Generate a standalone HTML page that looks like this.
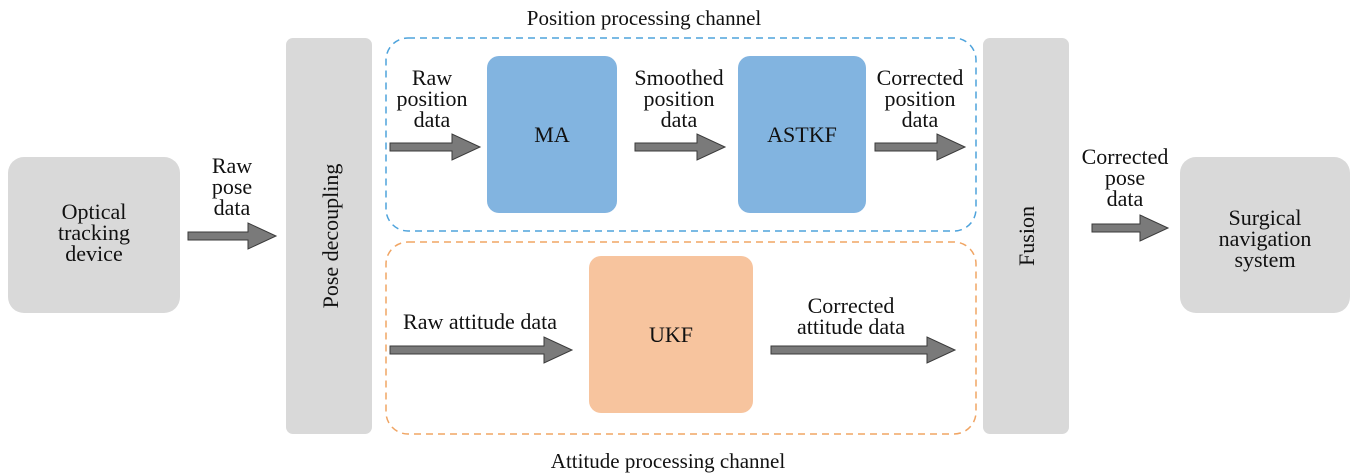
<!DOCTYPE html>
<html><head><meta charset="utf-8"><style>
html,body{margin:0;padding:0;background:#fff;}
svg{display:block;}
text{font-family:"Liberation Serif",serif;fill:#111;}
</style></head><body>
<svg width="1353" height="474" viewBox="0 0 1353 474" xmlns="http://www.w3.org/2000/svg">
<rect x="8" y="157" width="172" height="156" rx="16" fill="#d9d9d9"/>
<rect x="286" y="38" width="86" height="396" rx="7" fill="#d9d9d9"/>
<rect x="983" y="38" width="86" height="396" rx="7" fill="#d9d9d9"/>
<rect x="1180" y="157" width="170" height="156" rx="16" fill="#d9d9d9"/>
<rect x="386" y="38" width="590" height="193" rx="22" fill="none" stroke="#4ea3dc" stroke-width="1.5" stroke-dasharray="7,5"/>
<rect x="386" y="242" width="590" height="192" rx="22" fill="none" stroke="#f0a564" stroke-width="1.5" stroke-dasharray="7,5"/>
<rect x="487" y="56" width="130" height="157" rx="12" fill="#82b4e0"/>
<rect x="738" y="56" width="128" height="157" rx="12" fill="#82b4e0"/>
<rect x="589" y="256" width="164" height="157" rx="12" fill="#f7c49e"/>
<g fill="#7a7a7a" stroke="#3a3a3a" stroke-width="1">
<path d="M188,232 h60 v-9 l28,13 l-28,13 v-9 h-60 z"/>
<path d="M390,143 h62 v-9 l28,13 l-28,13 v-9 h-62 z"/>
<path d="M635,143 h62 v-9 l28,13 l-28,13 v-9 h-62 z"/>
<path d="M875,143 h62 v-9 l28,13 l-28,13 v-9 h-62 z"/>
<path d="M390,346 h154 v-9 l28,13 l-28,13 v-9 h-154 z"/>
<path d="M771,346 h156 v-9 l28,13 l-28,13 v-9 h-156 z"/>
<path d="M1092,224 h48 v-9 l28,13 l-28,13 v-9 h-48 z"/>
</g>
<g font-size="22" text-anchor="middle">
<text x="644" y="25" font-size="21">Position processing channel</text>
<text x="668" y="468" font-size="21">Attitude processing channel</text>
<text x="94" y="219">Optical</text>
<text x="94" y="240">tracking</text>
<text x="94" y="261">device</text>
<text x="232" y="173">Raw</text>
<text x="232" y="194">pose</text>
<text x="232" y="215">data</text>
<text transform="translate(338,236) rotate(-90)">Pose decoupling</text>
<text transform="translate(1034,236) rotate(-90)">Fusion</text>
<text x="432" y="85">Raw</text>
<text x="432" y="106">position</text>
<text x="432" y="127">data</text>
<text x="552" y="142">MA</text>
<text x="679" y="85">Smoothed</text>
<text x="679" y="106">position</text>
<text x="679" y="127">data</text>
<text x="802" y="142">ASTKF</text>
<text x="920" y="85">Corrected</text>
<text x="920" y="106">position</text>
<text x="920" y="127">data</text>
<text x="480" y="329">Raw attitude data</text>
<text x="671" y="342">UKF</text>
<text x="851" y="313">Corrected</text>
<text x="851" y="334">attitude data</text>
<text x="1125" y="164">Corrected</text>
<text x="1125" y="185">pose</text>
<text x="1125" y="206">data</text>
<text x="1265" y="225">Surgical</text>
<text x="1265" y="246">navigation</text>
<text x="1265" y="267">system</text>
</g>
</svg>
</body></html>
